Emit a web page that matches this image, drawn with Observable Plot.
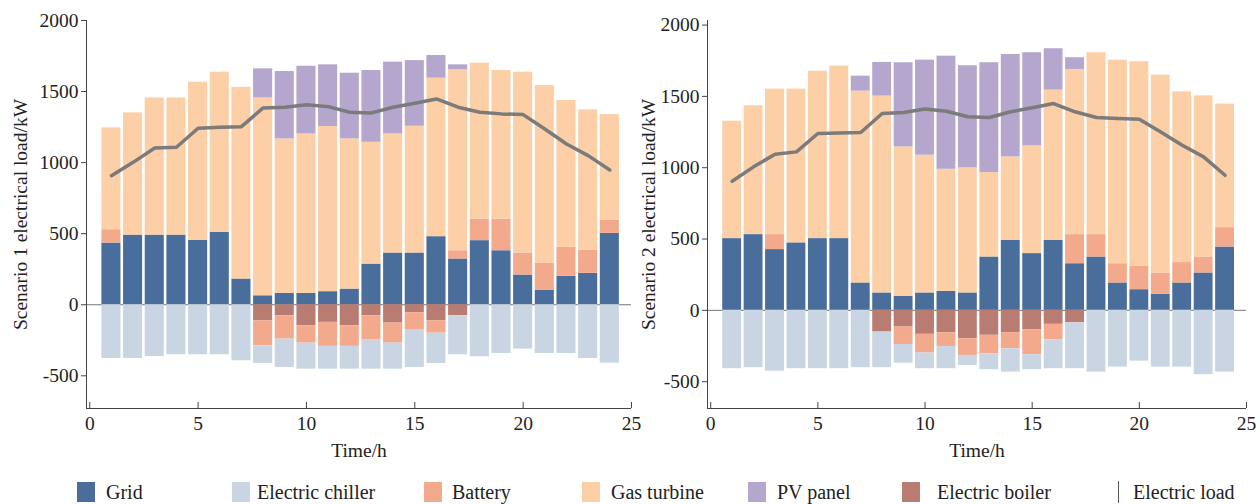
<!DOCTYPE html>
<html><head><meta charset="utf-8">
<script src="https://cdn.jsdelivr.net/npm/d3@7"></script>
<script src="https://cdn.jsdelivr.net/npm/@observablehq/plot@0.6"></script>
<style>
body{margin:0;background:#fff;font-family:"Liberation Serif","Times New Roman",serif;}
#wrap{position:relative;width:1260px;height:504px;overflow:hidden;}
#charts{display:flex;position:absolute;top:0;left:0;}
#charts svg{overflow:visible;}
#legend{position:absolute;top:470px;left:0;width:1260px;height:34px;}
.sw{position:absolute;top:12px;width:18px;height:20px;}
.ln{position:absolute;top:11px;width:1px;height:22px;background:#555;}
.lt{position:absolute;top:10px;font-size:20px;line-height:24px;color:#222;white-space:nowrap;}
</style></head>
<body><div id="wrap"><div id="charts"></div><div id="legend"></div></div>
<script>
const hours = [1,2,3,4,5,6,7,8,9,10,11,12,13,14,15,16,17,18,19,20,21,22,23,24];
const xTicks = [0,5,10,15,20,25];
const yTicks = [-500,0,500,1000,1500,2000];
const seriesNames = ["Grid","Electric chiller","Battery","Gas turbine","PV panel","Electric boiler"];
const seriesColors = ["#4a6e9b","#c9d5e3","#f3a98b","#fccfa6","#b4a6cc","#b97c72"];
const loadName = "Electric load";
const loadColor = "#7b7b7b";

// Scenario 1
const grid1 = [434,490,490,490,453,509,181,63,80,80,92,110,286,364,364,479,322,451,380,209,103,200,221,502];
const battery1 = [94,0,0,0,0,0,0,-176,-165,-122,-169,-145,-172,-141,-118,-87,58,152,223,155,190,204,164,94];
const gas1 = [716,860,965,965,1113,1127,1349,1392,1087,1122,1162,1057,857,838,892,1115,1273,1097,1045,1272,1249,1033,986,742];
const pv1 = [0,0,0,0,0,0,0,205,474,476,434,462,505,505,462,160,35,0,0,0,0,0,0,0];
const chiller1 = [-378,-378,-364,-352,-352,-352,-394,-124,-199,-183,-160,-160,-204,-183,-267,-213,-275,-366,-343,-312,-343,-343,-378,-411];
const boiler1 = [0,0,0,0,0,0,0,-113,-77,-148,-124,-148,-77,-129,-56,-113,-77,0,0,0,0,0,0,0];
const load1 = [908,1002,1103,1108,1242,1249,1253,1385,1390,1408,1394,1354,1350,1390,1418,1448,1390,1354,1343,1338,1237,1131,1049,948];

// Scenario 2
const grid2 = [503,531,426,473,503,503,192,122,98,122,133,122,374,491,398,491,327,374,192,145,112,192,262,444];
const battery2 = [0,0,105,0,0,0,0,0,-122,-131,-96,-117,-129,-112,-175,-108,204,157,135,166,150,143,112,136];
const gas2 = [823,903,1020,1078,1174,1209,1345,1380,1048,966,856,877,592,585,755,1053,1158,1275,1427,1432,1387,1197,1130,866];
const pv2 = [0,0,0,0,0,0,105,236,590,666,793,716,770,718,653,290,82,0,0,0,0,0,0,0];
const chiller2 = [-409,-402,-426,-409,-409,-409,-402,-250,-131,-110,-156,-70,-112,-164,-105,-203,-322,-433,-398,-356,-398,-398,-451,-433];
const boiler2 = [0,0,0,0,0,0,0,-152,-117,-168,-157,-199,-175,-157,-136,-98,-87,0,0,0,0,0,0,0];
const load2 = [905,1006,1095,1111,1240,1244,1247,1380,1387,1411,1396,1357,1352,1392,1420,1450,1392,1352,1345,1340,1251,1158,1076,947];

function panel(o) {
  const stackOrder = [["Grid", o.grid],["Electric boiler", o.boiler],["Battery", o.battery],["Gas turbine", o.gas],["PV panel", o.pv],["Electric chiller", o.chiller]];
  const rows = [];
  for (const [s, vals] of stackOrder) vals.forEach((v, i) => rows.push({hour: hours[i], series: s, value: v}));
  const loadRows = hours.map((h, i) => ({hour: h, load: o.load[i]}));
  const xd = [-0.15, 25];
  return Plot.plot({
    width: o.width, height: 470,
    marginLeft: o.marginLeft, marginRight: o.marginRight, marginTop: 20, marginBottom: 62,
    x: {domain: xd},
    y: {domain: o.yDomain},
    color: {domain: seriesNames, range: seriesColors},
    style: {fontFamily: "Liberation Serif, Times New Roman, serif", fontSize: "19.5px", color: "#222", background: "transparent"},
    marks: [
      Plot.ruleY([0], {stroke: "#777", strokeWidth: 1}),
      Plot.rect(rows, Plot.stackY({x: "hour", x1: d => d.hour - 0.44, x2: d => d.hour + 0.44, y: "value", z: "series", fill: "series"})),
      Plot.line(loadRows, {x: "hour", y: "load", stroke: loadColor, strokeWidth: 3.5}),
      Plot.ruleX([xd[0]], {stroke: "#444", strokeWidth: 1}),
      Plot.ruleY([o.yDomain[0]], {stroke: "#444", strokeWidth: 1}),
      Plot.axisY({ticks: yTicks, tickSize: 5, tickPadding: 3, label: null, tickFormat: d => String(d), stroke: "#444"}),
      Plot.axisX({ticks: xTicks, tickSize: -6, tickPadding: 14, label: null, tickFormat: d => String(d), stroke: "#444"}),
      Plot.text(["Time/h"], {frameAnchor: "bottom", dy: 42, lineAnchor: "middle", textAnchor: "middle", fontSize: 19.5, fill: "#222"}),
      Plot.text([o.label], {frameAnchor: "left", rotate: -90, dx: o.labelDx, textAnchor: "middle", lineAnchor: "middle", fontSize: 19.5, fill: "#222"})
    ]
  });
}

const charts = document.getElementById("charts");
charts.appendChild(panel({grid: grid1, battery: battery1, gas: gas1, pv: pv1, chiller: chiller1, boiler: boiler1, load: load1,
  label: "Scenario 1 electrical load/kW", width: 636, marginLeft: 86, marginRight: 5, yDomain: [-730, 2000], labelDx: -66}));
charts.appendChild(panel({grid: grid2, battery: battery2, gas: gas2, pv: pv2, chiller: chiller2, boiler: boiler2, load: load2,
  label: "Scenario 2 electrical load/kW", width: 624, marginLeft: 71, marginRight: 14, yDomain: [-688, 2032], labelDx: -59}));

// legend
const legend = document.getElementById("legend");
const swatchX = [77, 232, 424, 582, 748, 902];
const textX = [106, 257, 452, 611, 777, 937];
seriesNames.forEach((n, i) => {
  const s = document.createElement("div"); s.className = "sw"; s.style.left = swatchX[i] + "px"; s.style.background = seriesColors[i]; legend.appendChild(s);
  const t = document.createElement("div"); t.className = "lt"; t.style.left = textX[i] + "px"; t.textContent = n; legend.appendChild(t);
});
const l = document.createElement("div"); l.className = "ln"; l.style.left = "1118px"; legend.appendChild(l);
const lt = document.createElement("div"); lt.className = "lt"; lt.style.left = "1133px"; lt.textContent = loadName; legend.appendChild(lt);
</script></body></html>
